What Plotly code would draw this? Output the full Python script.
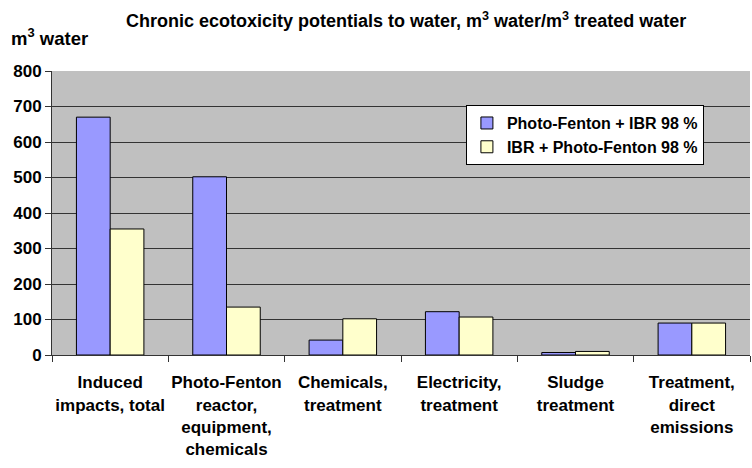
import plotly.graph_objects as go

categories = [
    "Induced<br>impacts, total",
    "Photo-Fenton<br>reactor,<br>equipment,<br>chemicals",
    "Chemicals,<br>treatment",
    "Electricity,<br>treatment",
    "Sludge<br>treatment",
    "Treatment,<br>direct<br>emissions",
]
series1_name = "Photo-Fenton + IBR 98 %"
series2_name = "IBR + Photo-Fenton 98 %"
series1 = [670, 502, 42, 122, 7, 90]
series2 = [355, 135, 102, 107, 10, 90]
y_ticks = [0, 100, 200, 300, 400, 500, 600, 700, 800]

FONT = "Liberation Sans, Arial, sans-serif"

fig = go.Figure()
fig.add_trace(go.Bar(x=categories, y=series1, name=f"<b>{series1_name}</b>",
                     marker=dict(color="#9999FF", line=dict(color="#000000", width=1))))
fig.add_trace(go.Bar(x=categories, y=series2, name=f"<b>{series2_name}</b>",
                     marker=dict(color="#FFFFCC", line=dict(color="#000000", width=1))))

fig.update_layout(
    width=752, height=468,
    margin=dict(l=52, r=2, t=71, b=113, autoexpand=False),
    paper_bgcolor="white",
    plot_bgcolor="#C0C0C0",
    barmode="group",
    bargap=0.42,
    bargroupgap=0,
    font=dict(family=FONT, size=16, color="black"),
    title=dict(
        text="<b>Chronic ecotoxicity potentials to water, m<sup>3</sup> water/m<sup>3</sup> treated water</b>",
        x=0.540, xanchor="center", y=0.955, yanchor="middle",
        font=dict(family=FONT, size=18, color="black"),
    ),
    legend=dict(
        x=0.593, y=0.88, xanchor="left", yanchor="top",
        bgcolor="white", bordercolor="black", borderwidth=1,
        font=dict(family=FONT, size=16, color="black"),
        itemwidth=30, tracegroupgap=0,
    ),
    showlegend=True,
    annotations=[
        dict(text="<b>m<sup>3</sup> water</b>", xref="paper", yref="paper",
             x=-0.062, y=1.12, xanchor="left", yanchor="middle", showarrow=False,
             font=dict(family=FONT, size=18.5, color="black")),
    ],
)

fig.update_xaxes(
    type="category",
    automargin=False,
    tickson="boundaries",
    tickangle=0,
    ticks="outside", ticklen=6, tickcolor="#333333",
    ticklabelstandoff=12,
    showline=True, linecolor="#333333", linewidth=1,
    tickfont=dict(family=FONT, size=17, color="black"),
    tickprefix="<b>", ticksuffix="</b>",
    showgrid=False,
)
fig.update_yaxes(
    automargin=False,
    range=[0, 800],
    tickvals=y_ticks,
    ticktext=[f"<b>{v}</b>" for v in y_ticks],
    ticks="outside", ticklen=6, tickcolor="#333333",
    showline=True, linecolor="#333333", linewidth=1,
    showgrid=True, gridcolor="#333333", gridwidth=1,
    zeroline=False,
    tickfont=dict(family=FONT, size=17, color="black"),
)

fig.write_html("out.html", config={"displayModeBar": False},
               post_script="document.body.style.margin='0';")
